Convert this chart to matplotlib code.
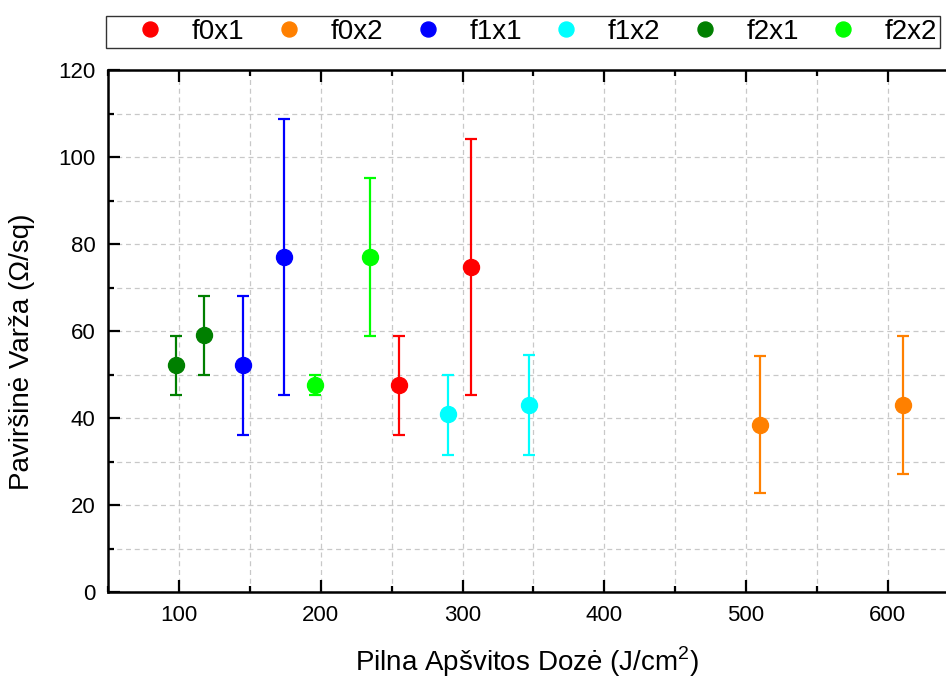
import matplotlib
matplotlib.use("Agg")
import matplotlib.pyplot as plt
from matplotlib.ticker import MultipleLocator

plt.rcParams["font.family"] = ["Liberation Sans", "DejaVu Sans"]
plt.rcParams["mathtext.fontset"] = "custom"
plt.rcParams["mathtext.rm"] = "Liberation Sans"

series = ["f0x1", "f0x2", "f1x1", "f1x2", "f2x1", "f2x2"]
colors = ["#FF0000", "#FF8000", "#0000FF", "#00FFFF", "#007F00", "#00FF00"]

dose = {
    "f0x1": [255, 306],
    "f0x2": [510, 611],
    "f1x1": [145, 174],
    "f1x2": [290, 347],
    "f2x1": [98, 118],
    "f2x2": [196, 235],
}
resist = {
    "f0x1": [47.7, 74.8],
    "f0x2": [38.5, 43.1],
    "f1x1": [52.2, 77.1],
    "f1x2": [40.9, 43.1],
    "f2x1": [52.2, 59.0],
    "f2x2": [47.6, 77.1],
}
err_low = {
    "f0x1": [36.2, 45.3],
    "f0x2": [22.7, 27.2],
    "f1x1": [36.2, 45.3],
    "f1x2": [31.6, 31.6],
    "f2x1": [45.3, 49.9],
    "f2x2": [45.3, 58.9],
}
err_high = {
    "f0x1": [58.9, 104.1],
    "f0x2": [54.3, 58.9],
    "f1x1": [68.0, 108.7],
    "f1x2": [49.9, 54.4],
    "f2x1": [58.9, 68.0],
    "f2x2": [49.9, 95.2],
}

fig = plt.figure(figsize=(9.46, 6.8), dpi=100)
ax = fig.add_axes([0.1142, 0.1294, 0.8858, 0.7676])

handles = []
for name, col in zip(series, colors):
    x = dose[name]
    y = resist[name]
    lo = [v - l for v, l in zip(y, err_low[name])]
    hi = [h - v for v, h in zip(y, err_high[name])]
    ax.errorbar(x, y, yerr=[lo, hi], fmt="o", color=col, ms=11.5,
                elinewidth=1.6, capsize=4, capthick=1.6, zorder=3)
    h, = ax.plot([], [], "o", color=col, ms=10.8, label=name)
    handles.append(h)

ax.set_xlim(50, 641)
ax.set_ylim(0, 120)
ax.xaxis.set_major_locator(MultipleLocator(100))
ax.xaxis.set_minor_locator(MultipleLocator(50))
ax.yaxis.set_major_locator(MultipleLocator(20))
ax.yaxis.set_minor_locator(MultipleLocator(10))
ax.grid(True, which="both", linestyle=(0, (4, 3)), color="#c8c8c8", linewidth=0.9, zorder=0)
ax.set_axisbelow(True)

for side in ["left", "bottom", "top"]:
    ax.spines[side].set_linewidth(1.8)
ax.spines["right"].set_visible(False)
ax.tick_params(which="major", direction="in", length=8.6, width=1.6, top=True, labelsize=16, pad=9)
ax.tick_params(which="minor", direction="in", length=4.3, width=1.6, top=True)

ax.set_xlabel("Pilna Apšvitos Dozė (J/cm$^2$)", fontsize=20, labelpad=14)
ax.set_ylabel("Paviršinė Varža (Ω/sq)", fontsize=20)
ax.yaxis.set_label_coords(-0.087, 0.46)

leg = fig.legend(handles=handles, loc="lower left", ncol=6, mode="expand",
                 bbox_to_anchor=(106 / 946, 1 - 48 / 680, 834 / 946, 36 / 680),
                 fontsize=20, frameon=True, fancybox=False, handletextpad=0.0,
                 borderaxespad=0, borderpad=0.1, handlelength=3.0)
leg.get_frame().set_edgecolor("black")
leg.get_frame().set_linewidth(1.0)

fig.savefig("out.png", dpi=100)
